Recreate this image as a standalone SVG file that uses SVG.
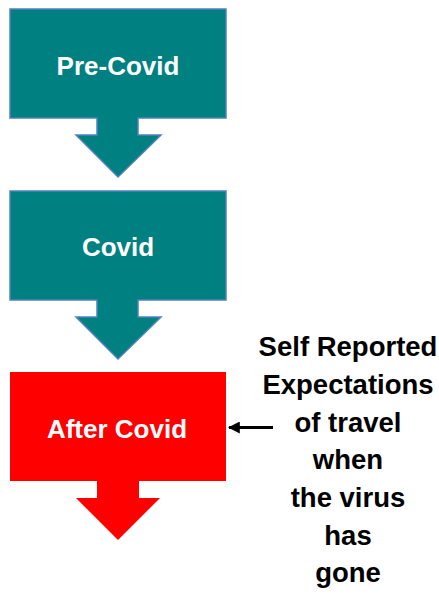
<svg xmlns="http://www.w3.org/2000/svg" width="439" height="594" viewBox="0 0 439 594">
<defs>
<style>
.teal{fill:#008080;stroke:#4F81BD;stroke-width:1.5;stroke-linejoin:miter}
.red{fill:#FF0000}
.lbl{font-family:"Liberation Sans",Arial,sans-serif;font-weight:bold;font-size:26px;fill:#FFFFFF;text-anchor:middle}
.note{font-family:"Liberation Sans",Arial,sans-serif;font-weight:bold;font-size:27.5px;fill:#000000;text-anchor:middle}
</style>
<marker id="ah" markerWidth="4" markerHeight="4" refX="3.6" refY="2" orient="auto" markerUnits="strokeWidth">
<path d="M0,0 L4,2 L0,4 Z" fill="#000000"/>
</marker>
</defs>
<rect width="439" height="594" fill="#FFFFFF"/>
<g id="pre-covid">
<path class="teal" d="M10,9 H226 V118 H138 V135 H161 L118,177 L76,135 H97 V118 H10 Z"/>
<text class="lbl" x="118" y="75">Pre-Covid</text>
</g>
<g id="covid">
<path class="teal" d="M10,191 H226 V300 H138 V317 H161 L118,359 L76,317 H97 V300 H10 Z"/>
<text class="lbl" x="118" y="256">Covid</text>
</g>
<g id="after-covid">
<path class="red" d="M10,372 H226 V481 H139 V498 H160 L118,540 L76,498 H97 V481 H10 Z"/>
<text class="lbl" x="117" y="438">After Covid</text>
</g>
<g id="connectors">
<line x1="273" y1="427.5" x2="229" y2="427.5" stroke="#000000" stroke-width="3" marker-end="url(#ah)"/>
</g>
<g id="note">
<text class="note" x="348" y="356">Self Reported</text>
<text class="note" x="348" y="394">Expectations</text>
<text class="note" x="348" y="432">of travel</text>
<text class="note" x="348" y="469">when</text>
<text class="note" x="348" y="507">the virus</text>
<text class="note" x="348" y="545">has</text>
<text class="note" x="348" y="582">gone</text>
</g>
</svg>
